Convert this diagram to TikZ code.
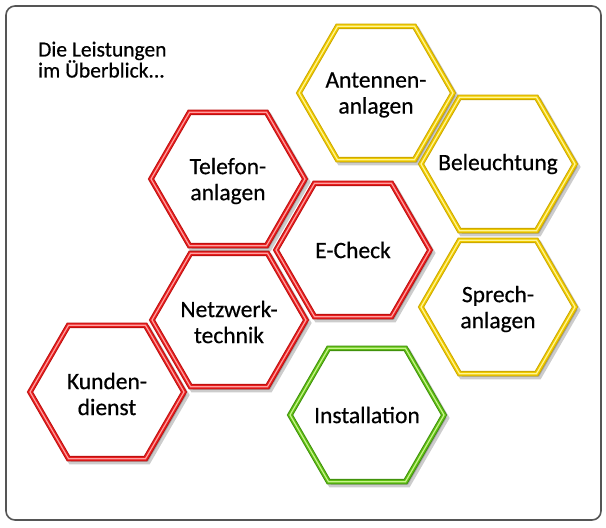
\documentclass[tikz,border=0pt]{standalone}
\usepackage{fontspec}
\setmainfont{Carlito}[FakeBold=0.5]
\usetikzlibrary{shapes.geometric,shadows}
\definecolor{hred}{RGB}{232,30,30}
\definecolor{hredd}{RGB}{185,15,15}
\definecolor{hredl}{RGB}{255,160,160}
\definecolor{hyel}{RGB}{240,202,0}
\definecolor{hyeld}{RGB}{200,165,0}
\definecolor{hyell}{RGB}{255,246,150}
\definecolor{hgrn}{RGB}{96,190,20}
\definecolor{hgrnd}{RGB}{60,140,10}
\definecolor{hgrnl}{RGB}{200,246,140}
\definecolor{framegray}{RGB}{85,85,85}
\begin{document}
\begin{tikzpicture}[x=1pt,y=-1pt,
  hexa/.style={regular polygon, regular polygon sides=6, minimum size=154pt,
    inner sep=0pt, fill=white, draw=#1d, line width=5.5pt, line join=miter,
    drop shadow={shadow xshift=2.5pt, shadow yshift=-3pt, opacity=0.2,
      fill=black, draw=black, line width=5.5pt},
    postaction={draw=#1, line width=3.8pt},
    postaction={draw=#1l, line width=1.2pt}},
  hextext/.style={align=center, inner sep=0pt,
    font=\fontsize{23.5}{26}\selectfont, text=black},
  hextwo/.style={hextext, yshift=-2pt},
  frame/.style={draw=framegray, line width=1.6pt, rounded corners=9pt},
  title/.style={anchor=north west, inner sep=0pt, align=left,
    font=\fontsize{21.5}{21}\selectfont, text=black}
]
\useasboundingbox (0,0) rectangle (606,528);
\draw[frame] (6,6) rectangle (601,520);
\node[title] (title) at (38,41.5) {Die Leistungen\\im Überblick...};
\node[hexa=hred, label={[hextwo]center:{Kunden-\\dienst}}] (kunden) at (107,392) {};
\node[hexa=hred, label={[hextwo]center:{Netzwerk-\\technik}}] (netz) at (229,320) {};
\node[hexa=hred, label={[hextwo]center:{Telefon-\\anlagen}}] (telefon) at (228,179) {};
\node[hexa=hred, label={[hextext]center:{E-Check}}] (echeck) at (353,250) {};
\node[hexa=hyel, label={[hextwo]center:{Antennen-\\anlagen}}] (antennen) at (376,93) {};
\node[hexa=hyel, label={[hextext]center:{Beleuchtung}}] (beleucht) at (498,164) {};
\node[hexa=hyel, label={[hextwo]center:{Sprech-\\anlagen}}] (sprech) at (498,307) {};
\node[hexa=hgrn, label={[hextext]center:{Installation}}] (install) at (367,415) {};
\end{tikzpicture}
\end{document}
